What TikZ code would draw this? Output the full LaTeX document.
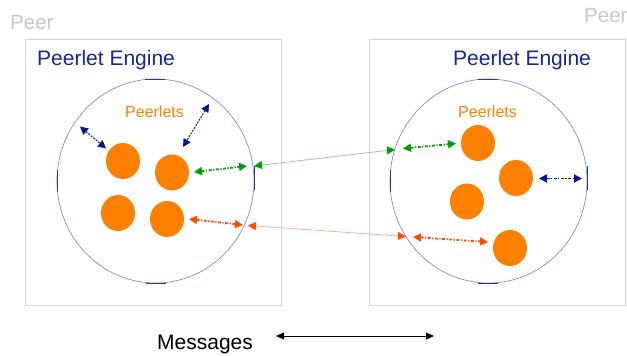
\documentclass[tikz,border=0pt]{standalone}
\usepackage{fontspec}
\setmainfont{Liberation Sans}
\usetikzlibrary{shapes.geometric,arrows.meta}
\definecolor{peergray}{RGB}{200,200,200}
\definecolor{boxgray}{RGB}{210,210,210}
\definecolor{enginetext}{RGB}{20,40,150}
\definecolor{ringblue}{RGB}{125,140,212}
\definecolor{markblue}{RGB}{40,55,160}
\definecolor{peerorange}{RGB}{255,128,0}
\definecolor{navyarrow}{RGB}{0,25,140}
\definecolor{greenarrow}{RGB}{0,160,0}
\definecolor{greenline}{RGB}{140,215,140}
\definecolor{redarrow}{RGB}{255,75,0}
\definecolor{redline}{RGB}{255,175,145}
\tikzset{
  peerbox/.style={draw=boxgray, line width=1pt},
  engine/.style={ellipse, draw=ringblue, line width=0.7pt, minimum width=197pt, minimum height=204pt, inner sep=0pt},
  ringmark/.style={draw=markblue, line width=0.9pt},
  peerlet/.style={ellipse, fill=peerorange, minimum width=34pt, minimum height=36pt, inner sep=0pt},
  peerlbl/.style={anchor=base west, text=peergray, font=\fontsize{20.5}{24}\selectfont, inner sep=0pt},
  englbl/.style={anchor=base west, text=enginetext, font=\fontsize{21}{25}\selectfont, inner sep=0pt},
  pletlbl/.style={anchor=base west, text=peerorange, font=\fontsize{16}{19}\selectfont, inner sep=0pt},
  dotarrow/.style={line width=1.8pt, dash pattern=on 3pt off 1.5pt on 1.2pt off 1.5pt, {Triangle[length=8pt,width=8pt]}-{Triangle[length=8pt,width=8pt]}},
  thindot/.style={line width=1pt, dash pattern=on 2pt off 1.2pt, {Triangle[length=8pt,width=8pt]}-{Triangle[length=8pt,width=8pt]}},
  msgline/.style={line width=0.8pt},
}
\begin{document}
\begin{tikzpicture}[x=1pt,y=-1pt]
\useasboundingbox (0,0) rectangle (627,356);
% peer boxes
\draw[peerbox] (25,39) rectangle (281,305);
\draw[peerbox] (369,39) rectangle (625,305);
\node[peerlbl] (peerL) at (10,29) {Peer};
\node[peerlbl] (peerR) at (584,23) {Peer};
\node[englbl] (engL) at (37,65) {Peerlet Engine};
\node[englbl] (engR) at (453,65) {Peerlet Engine};
% engines
\node[engine] (ringL) at (155.5,181) {};
\node[engine] (ringR) at (488.5,181) {};
\draw[ringmark] (145,79) -- (165,79);
\draw[ringmark] (146,283) -- (166,283);
\draw[ringmark] (57,170) -- (57,192);
\draw[ringmark] (254,166) -- (254,190);
\draw[ringmark] (478,79) -- (498,79);
\draw[ringmark] (478,283) -- (498,283);
\draw[ringmark] (390,170) -- (390,192);
\draw[ringmark] (587,166) -- (587,190);
\node[pletlbl] (pletsL) at (125,117) {Peerlets};
\node[pletlbl] (pletsR) at (458,117) {Peerlets};
% peerlets
\node[peerlet] (pA) at (123,161) {};
\node[peerlet] (pB) at (172,172.5) {};
\node[peerlet] (pC) at (118,213) {};
\node[peerlet] (pD) at (167,219) {};
\node[peerlet] (pE) at (478,143) {};
\node[peerlet] (pF) at (516,178) {};
\node[peerlet] (pG) at (467,201.5) {};
\node[peerlet] (pH) at (510,248) {};
% arrow end points
\coordinate (a1) at (80,126.5);
\coordinate (a2) at (106,148.5);
\coordinate (b1) at (209,104);
\coordinate (b2) at (183,147);
\coordinate (g1) at (194,172);
\coordinate (g2) at (247,166);
\coordinate (gl1) at (254,166);
\coordinate (gl2) at (395,149.5);
\coordinate (g3) at (403,148.5);
\coordinate (g4) at (456,143.5);
\coordinate (o1) at (189,219);
\coordinate (o2) at (243,225);
\coordinate (ol1) at (248,225.5);
\coordinate (ol2) at (406,236.5);
\coordinate (o3) at (413,237);
\coordinate (o4) at (488,242);
\coordinate (n1) at (539,178.5);
\coordinate (n2) at (582,178.5);
\coordinate (m1) at (276,336);
\coordinate (m2) at (434,336);
% dotted arrows inside engines
\draw[thindot, navyarrow] (a1) -- (a2);
\draw[thindot, navyarrow] (b1) -- (b2);
\draw[dotarrow, greenarrow] (g1) -- (g2);
\draw[dotarrow, redarrow] (o1) -- (o2);
\draw[dotarrow, greenarrow] (g3) -- (g4);
\draw[dotarrow, redarrow] (o3) -- (o4);
\draw[dotarrow, navyarrow] (n1) -- (n2);
% messages between engines
\draw[greenline, line width=0.8pt, {Triangle[length=8pt,width=8pt,color=greenarrow]}-{Triangle[length=8pt,width=8pt,color=greenarrow]}] (gl1) -- (gl2);
\draw[redline, line width=0.8pt, {Triangle[length=8pt,width=8pt,color=redarrow]}-{Triangle[length=8pt,width=8pt,color=redarrow]}] (ol1) -- (ol2);
% legend
\node[anchor=base west, inner sep=0pt, font=\fontsize{21}{25}\selectfont] (msg) at (157,349) {Messages};
\draw[msgline, {Triangle[length=8pt,width=7pt]}-{Triangle[length=8pt,width=7pt]}] (m1) -- (m2);
\end{tikzpicture}
\end{document}
